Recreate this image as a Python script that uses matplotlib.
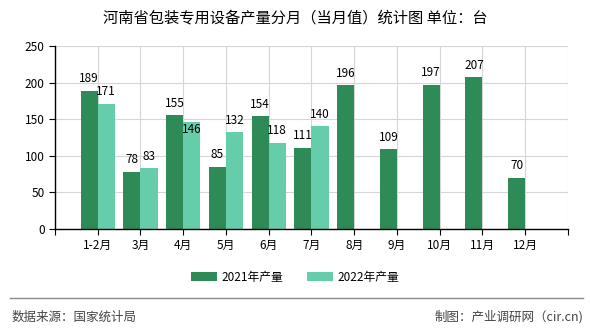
import matplotlib
matplotlib.use('Agg')
import matplotlib.pyplot as plt
import numpy as np

plt.rcParams['font.family'] = ['Noto Sans CJK SC', 'DejaVu Sans']

categories = ['1-2月', '3月', '4月', '5月', '6月', '7月', '8月', '9月', '10月', '11月', '12月']
prod_2021 = [189, 78, 155, 85, 154, 111, 196, 109, 197, 207, 70]
prod_2022 = [171, 83, 146, 132, 118, 140]
series_names = ['2021年产量', '2022年产量']
colors = ['#2E8B57', '#66CDAA']
title = '河南省包装专用设备产量分月（当月值）统计图 单位：台'

fig = plt.figure(figsize=(5.9, 3.3), dpi=100)
ax = fig.add_axes([0.0932, 0.306, 0.8695, 0.555])

x = np.arange(1, len(categories) + 1)
w = 0.4
b1 = ax.bar(x[:len(prod_2021)] - w / 2, prod_2021, w, color=colors[0], label=series_names[0], zorder=2)
b2 = ax.bar(x[:len(prod_2022)] + w / 2, prod_2022, w, color=colors[1], label=series_names[1], zorder=2)

for rect, v in zip(b1, prod_2021):
    ax.annotate(str(v), (rect.get_x() + rect.get_width() / 2, v), xytext=(0, 4),
                textcoords='offset points', ha='center', va='bottom', fontsize=8.5, zorder=3)
for i, (rect, v) in enumerate(zip(b2, prod_2022)):
    # label goes into the bar when it would collide with the 2021 label
    dy = -10 if abs(v - prod_2021[i]) < 12 and v < prod_2021[i] else 4
    ax.annotate(str(v), (rect.get_x() + rect.get_width() / 2, v), xytext=(0, dy),
                textcoords='offset points', ha='center', va='bottom', fontsize=8.5, zorder=3)

ax.set_xlim(0, len(categories) + 1)
ax.set_ylim(0, 250)
ax.set_yticks(range(0, 251, 50))
ax.set_xticks(np.arange(0, len(categories) + 2))
ax.set_xticklabels([''] + categories + [''])
ax.tick_params(axis='both', labelsize=8.5, length=4, color='black')
ax.grid(True, color='#d6d6d6', linewidth=0.8, zorder=0)
ax.set_axisbelow(True)
for s in ['top', 'right']:
    ax.spines[s].set_visible(False)
for s in ['left', 'bottom']:
    ax.spines[s].set_color('black')
    ax.spines[s].set_linewidth(1)

fig.suptitle(title, y=0.97, fontsize=11)
fig.legend(loc='center', bbox_to_anchor=(0.5, 0.16), ncol=2, frameon=False,
           fontsize=8.5, handlelength=2.2, handleheight=0.8, columnspacing=2.0, handletextpad=0.4)

fig.add_artist(plt.Line2D([10 / 590, 583 / 590], [1 - 298 / 330] * 2, color='#888888', linewidth=1))
fig.text(12 / 590, 1 - 317 / 330, '数据来源：国家统计局', fontsize=9, color='#444444', va='center', ha='left')
fig.text(583 / 590, 1 - 317 / 330, '制图：产业调研网（cir.cn)', fontsize=9, color='#444444', va='center', ha='right')

plt.savefig('out.png', dpi=100)
plt.close()
